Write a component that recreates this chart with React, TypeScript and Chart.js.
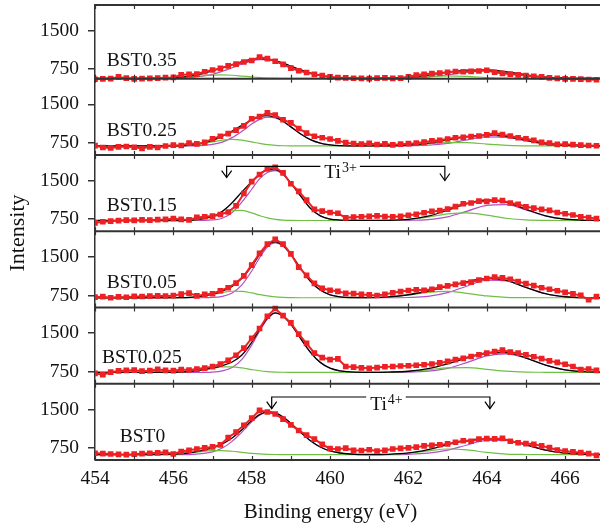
import React, { useEffect, useRef } from 'react';
import { Chart, registerables } from 'chart.js';

Chart.register(...registerables);

// ---------------- data ----------------
const SAMPLES = ['BST0.35', 'BST0.25', 'BST0.15', 'BST0.05', 'BST0.025', 'BST0'];

const ENERGY = [
  454.0, 454.2, 454.4, 454.6, 454.8,
  455.0, 455.2, 455.4, 455.6, 455.8,
  456.0, 456.2, 456.4, 456.6, 456.8,
  457.0, 457.2, 457.4, 457.6, 457.8,
  458.0, 458.2, 458.4, 458.6, 458.8,
  459.0, 459.2, 459.4, 459.6, 459.8,
  460.0, 460.2, 460.4, 460.6, 460.8,
  461.0, 461.2, 461.4, 461.6, 461.8,
  462.0, 462.2, 462.4, 462.6, 462.8,
  463.0, 463.2, 463.4, 463.6, 463.8,
  464.0, 464.2, 464.4, 464.6, 464.8,
  465.0, 465.2, 465.4, 465.6, 465.8,
  466.0, 466.2, 466.4, 466.6, 466.8,
];

const FIT_ENERGY = [
  454, 455, 456, 456.5, 457, 457.25, 457.5, 457.75, 458, 458.2, 458.4, 458.6, 458.8,
  459, 459.25, 459.5, 459.75, 460, 460.25, 460.5, 461, 461.5, 462, 462.5, 463, 463.5,
  464, 464.5, 465, 465.5, 466, 466.5, 467,
];

const X_TICKS = [454, 455, 456, 457, 458, 459, 460, 461, 462, 463, 464, 465, 466];
const X_LABELS = [454, 456, 458, 460, 462, 464, 466];
const Y_TICKS = [750, 1500];

// measured intensities (red squares)
const DATA_BST035 = [
  555, 560, 566, 600, 575,
  560, 565, 570, 575, 585,
  590, 640, 648, 655, 700,
  735, 765, 815, 850, 890,
  920, 985, 955, 905, 845,
  770, 720, 685, 650, 625,
  600, 587, 580, 574, 570,
  565, 575, 580, 572, 575,
  600, 635, 650, 665, 675,
  690, 705, 700, 706, 715,
  730, 690, 668, 655, 640,
  625, 610, 600, 580, 570,
  562, 560, 556, 550, 545,
];
const DATA_BST025 = [
  698, 660, 652, 672, 680,
  665, 640, 672, 660, 690,
  705, 700, 745, 730, 760,
  828, 880, 930, 1000, 1080,
  1220, 1260, 1335, 1290, 1200,
  1140, 1030, 940, 880, 850,
  825, 790, 755, 735, 725,
  740, 718, 730, 712, 725,
  735, 745, 765, 790, 800,
  825, 850, 860, 875, 885,
  905, 940, 910, 885, 850,
  830, 800, 760, 745, 720,
  725, 715, 705, 700, 695,
];
const DATA_BST015 = [
  678, 700, 711, 722, 730,
  725, 735, 730, 740, 745,
  763, 745, 735, 783, 796,
  810, 840, 890, 1010, 1250,
  1480, 1620, 1730, 1760, 1650,
  1440, 1290, 1120, 940, 905,
  880, 865, 775, 790, 796,
  805, 815, 800, 795, 805,
  825, 845, 875, 900, 915,
  945, 995, 1050, 1065, 1100,
  1095, 1120, 1110, 1065, 1040,
  990, 965, 940, 920, 880,
  855, 830, 795, 780, 760,
];
const DATA_BST005 = [
  717, 725, 705, 720, 715,
  730, 728, 735, 740, 738,
  745, 775, 796, 740, 770,
  783, 840, 900, 990, 1130,
  1340, 1570, 1750, 1840, 1750,
  1560, 1300, 1140, 985, 890,
  850, 830, 790, 785, 770,
  760, 748, 770, 800, 825,
  845, 860, 850, 870, 910,
  935, 966, 990, 1010, 1050,
  1080, 1105, 1090, 1065, 1020,
  980, 940, 900, 870, 840,
  810, 780, 750, 665, 725,
];
const DATA_BST0025 = [
  717, 690, 740, 765, 775,
  780, 762, 770, 795, 775,
  770, 790, 783, 800, 820,
  848, 900, 970, 1070, 1210,
  1400, 1590, 1830, 1980, 1840,
  1700, 1480, 1300, 1110, 1025,
  985, 1000, 850, 840, 825,
  815, 830, 845, 850, 860,
  865, 875, 885, 900, 920,
  950, 985, 1010, 1045, 1080,
  1110, 1140, 1170, 1130, 1110,
  1077, 1040, 1005, 960, 930,
  895, 850, 790, 800, 775,
];
const DATA_BST0 = [
  646, 640, 632, 625, 619,
  628, 640, 646, 655, 665,
  632, 680, 705, 730, 750,
  770, 810, 950, 1060, 1190,
  1330, 1480, 1450, 1410, 1310,
  1200, 1090, 1000, 920, 820,
  735, 730, 745, 705, 700,
  715, 690, 705, 730, 740,
  752, 765, 790, 800, 812,
  828, 860, 890, 880, 920,
  930, 926, 935, 880, 850,
  835, 820, 790, 755, 710,
  690, 672, 660, 640, 605,
];

// fitted envelope (black)
const FIT_BST035 = [570, 570, 582, 626, 718, 779, 841, 899, 941, 954, 946, 917, 868, 810, 736, 673, 627, 598, 583, 575, 571, 576, 595, 635, 689, 732, 738, 698, 640, 596, 577, 571, 570];
const FIT_BST025 = [690, 690, 691, 711, 799, 881, 982, 1091, 1196, 1257, 1279, 1249, 1171, 1062, 922, 812, 744, 710, 696, 692, 690, 694, 708, 746, 808, 874, 905, 873, 798, 731, 700, 692, 690];
const FIT_BST015 = [724, 724, 724, 732, 805, 902, 1070, 1280, 1480, 1630, 1710, 1717, 1630, 1450, 1200, 960, 815, 750, 732, 726, 725, 728, 747, 808, 923, 1054, 1123, 1077, 942, 815, 749, 728, 724];
const FIT_BST005 = [704, 704, 705, 716, 773, 833, 926, 1081, 1319, 1544, 1728, 1792, 1719, 1550, 1275, 1025, 854, 762, 722, 709, 707, 721, 763, 836, 926, 1020, 1083, 1042, 906, 783, 724, 707, 704];
const FIT_BST0025 = [737, 737, 739, 759, 823, 869, 938, 1075, 1321, 1571, 1790, 1896, 1832, 1673, 1395, 1127, 931, 818, 766, 745, 737, 742, 758, 808, 902, 1021, 1115, 1119, 1016, 879, 786, 749, 739];
const FIT_BST0 = [620, 620, 629, 666, 751, 827, 942, 1103, 1282, 1398, 1453, 1433, 1353, 1229, 1052, 890, 768, 691, 651, 632, 622, 626, 652, 719, 815, 898, 938, 907, 809, 706, 647, 626, 621];

// Ti4+ component (purple)
const TI4_BST035 = [570, 570, 573, 591, 652, 709, 779, 853, 912, 937, 937, 912, 866, 809, 736, 673, 627, 598, 583, 575, 570, 571, 577, 596, 639, 693, 720, 693, 639, 596, 577, 571, 570];
const TI4_BST025 = [690, 690, 690, 693, 720, 766, 852, 976, 1117, 1208, 1253, 1237, 1167, 1061, 922, 812, 744, 710, 696, 692, 690, 690, 692, 704, 741, 810, 869, 861, 795, 731, 700, 692, 690];
const TI4_BST015 = [724, 724, 724, 724, 735, 767, 881, 1085, 1332, 1535, 1660, 1695, 1622, 1448, 1200, 960, 815, 750, 732, 726, 724, 724, 727, 742, 795, 905, 1019, 1033, 931, 813, 749, 728, 724];
const TI4_BST005 = [704, 704, 704, 704, 710, 732, 799, 957, 1225, 1481, 1692, 1774, 1712, 1547, 1275, 1025, 854, 762, 722, 709, 704, 704, 709, 731, 803, 934, 1047, 1033, 905, 783, 724, 707, 704];
const TI4_BST0025 = [737, 737, 737, 737, 743, 764, 830, 989, 1267, 1540, 1775, 1890, 1830, 1672, 1395, 1127, 931, 818, 766, 745, 737, 738, 741, 759, 815, 930, 1057, 1097, 1011, 878, 786, 749, 739];
const TI4_BST0 = [620, 620, 620, 626, 674, 748, 877, 1059, 1258, 1385, 1447, 1431, 1352, 1229, 1052, 890, 768, 691, 651, 632, 621, 621, 626, 647, 706, 807, 896, 896, 807, 706, 647, 626, 621];

// Ti3+ component (green)
const TI3_BST035 = [570, 570, 579, 605, 636, 640, 632, 616, 599, 587, 579, 575, 572, 571, 570, 570, 570, 570, 570, 570, 571, 575, 588, 609, 620, 609, 588, 575, 571, 570, 570, 570, 570];
const TI3_BST025 = [690, 690, 691, 708, 769, 805, 820, 805, 769, 739, 716, 702, 694, 691, 690, 690, 690, 690, 690, 690, 690, 694, 706, 732, 757, 754, 726, 702, 693, 690, 690, 690, 690];
const TI3_BST015 = [724, 724, 724, 732, 794, 859, 913, 919, 872, 819, 774, 746, 732, 726, 724, 724, 724, 724, 724, 724, 725, 728, 744, 790, 852, 873, 828, 768, 735, 726, 724, 724, 724];
const TI3_BST005 = [704, 704, 705, 716, 767, 805, 831, 828, 798, 767, 740, 722, 711, 707, 704, 704, 704, 704, 704, 704, 707, 721, 758, 809, 827, 790, 740, 713, 705, 704, 704, 704, 704];
const TI3_BST0025 = [737, 737, 739, 759, 817, 842, 845, 823, 791, 768, 752, 743, 739, 738, 737, 737, 737, 737, 737, 737, 737, 741, 754, 786, 824, 828, 795, 759, 742, 738, 737, 737, 737];
const TI3_BST0 = [620, 620, 629, 660, 697, 699, 685, 664, 644, 633, 626, 622, 621, 620, 620, 620, 620, 620, 620, 620, 621, 625, 646, 692, 729, 711, 662, 631, 622, 620, 620, 620, 620];

const PANEL_SERIES = [
  { data: DATA_BST035, fit: FIT_BST035, ti4: TI4_BST035, ti3: TI3_BST035 },
  { data: DATA_BST025, fit: FIT_BST025, ti4: TI4_BST025, ti3: TI3_BST025 },
  { data: DATA_BST015, fit: FIT_BST015, ti4: TI4_BST015, ti3: TI3_BST015 },
  { data: DATA_BST005, fit: FIT_BST005, ti4: TI4_BST005, ti3: TI3_BST005 },
  { data: DATA_BST0025, fit: FIT_BST0025, ti4: TI4_BST0025, ti3: TI3_BST0025 },
  { data: DATA_BST0, fit: FIT_BST0, ti4: TI4_BST0, ti3: TI3_BST0 },
];

// ---------------- layout / style ----------------
const Y_MIN = [565, 515, 515, 515, 515, 515];
const Y_MAX = 2000;
const X_MIN = 454;
const X_MAX = 466.89;

// panel label anchors (energy, intensity) – text baseline, left aligned
const LABEL_ANCHORS = [
  [454.3, 815], [454.3, 877], [454.3, 900], [454.3, 900], [454.18, 925], [454.63, 860],
];

const BRACKETS = [
  { panel: 2, ion: 'Ti', charge: '3+', left: 457.36, right: 462.93, line: 1777, tipLeft: 1560, tipRight: 1503, textX: 460.27, textY: 1548 },
  { panel: 5, ion: 'Ti', charge: '4+', left: 458.51, right: 464.08, line: 1742, tipLeft: 1514, tipRight: 1514, textX: 461.44, textY: 1481 },
];

const FAMILY = "'Liberation Serif', 'DejaVu Serif', serif";
const TEXT = '#111111';
const FRAME = '#333333';
const RED = '#ed2024';
const PURPLE = '#b24fc2';
const GREEN = '#6fbf45';
const W = 604;
const H = 526;

const decorPlugin = {
  id: 'panelDecor',
  afterDatasetsDraw(chart: any) {
    const ctx: CanvasRenderingContext2D = chart.ctx;
    const xs = chart.scales.x;
    const area = chart.chartArea;
    const ys = SAMPLES.map((_, i) => chart.scales['y' + i]);
    const edges = [ys[0].top, ...ys.map((s: any) => s.bottom)];
    ctx.save();
    // panel frames
    ctx.strokeStyle = FRAME;
    ctx.lineWidth = 2;
    edges.forEach((yy: number) => {
      ctx.beginPath();
      ctx.moveTo(area.left, yy);
      ctx.lineTo(area.right, yy);
      ctx.stroke();
    });
    // inward x tick marks on every frame line
    ctx.lineWidth = 1.2;
    X_TICKS.forEach((v) => {
      const px = Math.round(xs.getPixelForValue(v)) + 0.5;
      edges.forEach((yy: number, k: number) => {
        const up = k > 0 ? 4 : 0;
        const down = k < edges.length - 1 ? 4 : 0;
        ctx.beginPath();
        ctx.moveTo(px, yy - up);
        ctx.lineTo(px, yy + down);
        ctx.stroke();
      });
    });
    // panel labels
    ctx.fillStyle = TEXT;
    ctx.font = `19.5px ${FAMILY}`;
    ctx.textAlign = 'left';
    ctx.textBaseline = 'alphabetic';
    SAMPLES.forEach((name, i) => {
      const [ex, ev] = LABEL_ANCHORS[i];
      ctx.fillText(name, xs.getPixelForValue(ex), ys[i].getPixelForValue(ev));
    });
    // Ti brackets
    ctx.strokeStyle = '#000';
    ctx.lineWidth = 1.2;
    BRACKETS.forEach((b) => {
      const sy = ys[b.panel];
      const xl = xs.getPixelForValue(b.left);
      const xr = xs.getPixelForValue(b.right);
      const yl = sy.getPixelForValue(b.line);
      const ytl = sy.getPixelForValue(b.tipLeft);
      const ytr = sy.getPixelForValue(b.tipRight);
      const xc = xs.getPixelForValue(b.textX);
      const yb = sy.getPixelForValue(b.textY);
      ctx.font = `19.5px ${FAMILY}`;
      const w1 = ctx.measureText(b.ion).width;
      ctx.font = `14px ${FAMILY}`;
      const w2 = ctx.measureText(b.charge).width;
      const tw = w1 + w2 + 1;
      const x0 = xc - tw / 2;
      ctx.beginPath();
      ctx.moveTo(xl, ytl);
      ctx.lineTo(xl, yl);
      ctx.lineTo(x0 - 4, yl);
      ctx.moveTo(x0 + tw + 3, yl);
      ctx.lineTo(xr, yl);
      ctx.lineTo(xr, ytr);
      ctx.stroke();
      [[xl, ytl], [xr, ytr]].forEach(([ax, ay]) => {
        ctx.beginPath();
        ctx.moveTo(ax - 5, ay - 7);
        ctx.lineTo(ax, ay);
        ctx.lineTo(ax + 5, ay - 7);
        ctx.stroke();
      });
      ctx.fillStyle = TEXT;
      ctx.font = `19.5px ${FAMILY}`;
      ctx.fillText(b.ion, x0, yb);
      ctx.font = `14px ${FAMILY}`;
      ctx.fillText(b.charge, x0 + w1 + 1, yb - 6);
    });
    // axis titles
    ctx.fillStyle = TEXT;
    ctx.font = `21px ${FAMILY}`;
    ctx.textAlign = 'center';
    ctx.fillText('Binding energy (eV)', 330.5, 518);
    ctx.save();
    ctx.translate(24, 233);
    ctx.rotate(-Math.PI / 2);
    ctx.font = `22px ${FAMILY}`;
    ctx.fillText('Intensity', 0, 0);
    ctx.restore();
    ctx.restore();
  },
};

export default function App() {
  const ref = useRef<HTMLCanvasElement | null>(null);

  useEffect(() => {
    if (!ref.current) return;
    const clip = { left: 0, right: 0, top: 8, bottom: 8 };
    const datasets: any[] = [];
    PANEL_SERIES.forEach((s, i) => {
      const yAxisID = 'y' + i;
      datasets.push({
        label: SAMPLES[i],
        data: ENERGY.map((x, k) => ({ x, y: s.data[k] })),
        xAxisID: 'x', yAxisID,
        borderColor: RED, backgroundColor: RED, borderWidth: 2,
        pointStyle: 'rect', pointRadius: 4, pointBorderWidth: 0,
        pointBackgroundColor: RED, order: 0, clip,
      });
      datasets.push({
        label: SAMPLES[i] + ' fit',
        data: FIT_ENERGY.map((x, k) => ({ x, y: s.fit[k] })),
        xAxisID: 'x', yAxisID,
        borderColor: '#000000', borderWidth: 1.3, pointRadius: 0,
        cubicInterpolationMode: 'monotone', order: 1, clip,
      });
      datasets.push({
        label: SAMPLES[i] + ' Ti3+',
        data: FIT_ENERGY.map((x, k) => ({ x, y: s.ti3[k] })),
        xAxisID: 'x', yAxisID,
        borderColor: GREEN, borderWidth: 1.2, pointRadius: 0,
        cubicInterpolationMode: 'monotone', order: 2, clip,
      });
      datasets.push({
        label: SAMPLES[i] + ' Ti4+',
        data: FIT_ENERGY.map((x, k) => ({ x, y: s.ti4[k] })),
        xAxisID: 'x', yAxisID,
        borderColor: PURPLE, borderWidth: 1.2, pointRadius: 0,
        cubicInterpolationMode: 'monotone', order: 3, clip,
      });
    });

    const tickFont = { family: FAMILY, size: 19.5 };
    const scales: any = {};
    for (let i = SAMPLES.length - 1; i >= 0; i--) {
      scales['y' + i] = {
        type: 'linear',
        position: 'left',
        stack: 'panels',
        stackWeight: (Y_MAX - Y_MIN[i]) / (Y_MAX - Y_MIN[1]),
        min: Y_MIN[i],
        max: Y_MAX,
        afterBuildTicks: (sc: any) => { sc.ticks = Y_TICKS.map((v) => ({ value: v })); },
        afterFit: (sc: any) => {
          sc.width = 95;
          sc.paddingTop = 0;
          sc.paddingBottom = 0;
        },
        ticks: { font: tickFont, color: TEXT, padding: 9, callback: (v: any) => String(v) },
        grid: { drawOnChartArea: false, drawTicks: true, tickLength: 7, color: FRAME, lineWidth: 1.5 },
        border: { display: true, color: FRAME, width: 1.5 },
      };
    }
    scales.x = {
      type: 'linear',
      position: 'bottom',
      min: X_MIN,
      max: X_MAX,
      afterBuildTicks: (sc: any) => { sc.ticks = X_TICKS.map((v) => ({ value: v })); },
      afterFit: (sc: any) => {
        sc.height = 66;
        sc.paddingLeft = 0;
        sc.paddingRight = 0;
      },
      ticks: {
        font: tickFont, color: TEXT, padding: 7, autoSkip: false, maxRotation: 0,
        callback: (v: any) => (X_LABELS.includes(Number(v)) ? String(v) : ''),
      },
      grid: { drawOnChartArea: false, drawTicks: false, display: false },
      border: { display: false },
    };

    const chart = new Chart(ref.current, {
      type: 'line',
      data: { datasets },
      options: {
        responsive: false,
        animation: false,
        events: [],
        layout: { padding: { left: 0, right: 0, top: 5, bottom: 0 } },
        plugins: { legend: { display: false }, tooltip: { enabled: false } },
        scales,
      } as any,
      plugins: [decorPlugin],
    });
    return () => chart.destroy();
  }, []);

  return (
    <div style={{ position: 'absolute', left: 0, top: 0, width: W, height: H, background: '#fff' }}>
      <canvas ref={ref} width={W} height={H} style={{ display: 'block', width: W, height: H }} />
    </div>
  );
}
